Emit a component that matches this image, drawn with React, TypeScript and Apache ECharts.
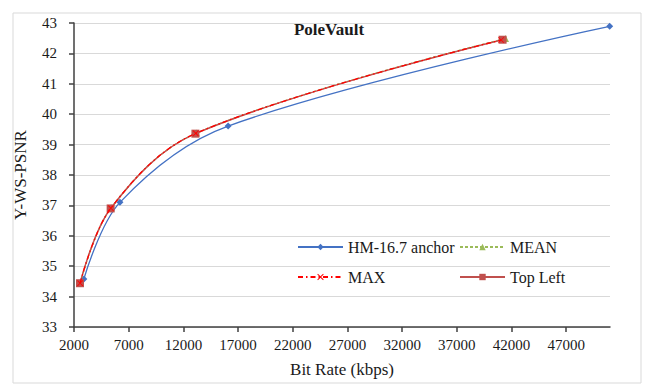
import React, { useEffect, useRef } from "react";
import * as echarts from "echarts";

const xTickValues = [2000, 7000, 12000, 17000, 22000, 27000, 32000, 37000, 42000, 47000];

const hmRate = [2900, 6200, 16090, 50970];
const hmPsnr = [34.58, 37.1, 39.61, 42.89];

const meanRate = [2580, 5400, 13200, 41450];
const meanPsnr = [34.45, 36.92, 39.38, 42.49];

const maxRate = [2560, 5370, 13130, 41050];
const maxPsnr = [34.44, 36.91, 39.37, 42.44];

const topLeftRate = [2550, 5350, 13100, 41180];
const topLeftPsnr = [34.44, 36.9, 39.36, 42.45];

const seriesNames = ["HM-16.7 anchor", "MEAN", "MAX", "Top Left"];

const zip = (a: number[], b: number[]) => a.map((v, i) => [v, b[i]]);

const FONT = "Liberation Serif";
const XSYM =
  "path://M1,0L5,4L9,0L10,1L6,5L10,9L9,10L5,6L1,10L0,9L4,5L0,1Z";
const SMOOTH = 0.35;

export default function App() {
  const ref = useRef<HTMLDivElement>(null);
  useEffect(() => {
    if (!ref.current) return;
    const chart = echarts.init(ref.current, null, { renderer: "svg" });
    const legendBase = {
      orient: "horizontal",
      padding: 0,
      itemWidth: 45,
      itemHeight: 8,
      itemGap: 5,
      selectedMode: false,
      textStyle: { fontFamily: FONT, fontSize: 16, color: "#1a1a1a" },
    };
    chart.setOption({
      animation: false,
      backgroundColor: "#ffffff",
      textStyle: { fontFamily: FONT },
      graphic: [
        {
          type: "rect",
          shape: { x: 13, y: 13, width: 628, height: 370 },
          style: { fill: "none", stroke: "#D9D9D9", lineWidth: 1 },
          silent: true,
        },
        {
          type: "text",
          x: 329,
          y: 29,
          style: {
            text: "PoleVault",
            fontFamily: FONT,
            fontSize: 17,
            fontWeight: "bold",
            fill: "#1a1a1a",
            align: "center",
            verticalAlign: "middle",
          },
        },
      ],
      legend: [
        { ...legendBase, data: [seriesNames[0]], left: 297, top: 239 },
        { ...legendBase, data: [seriesNames[1]], left: 459, top: 239 },
        { ...legendBase, data: [seriesNames[2]], left: 297, top: 269 },
        { ...legendBase, data: [seriesNames[3]], left: 459, top: 269 },
      ],
      grid: { left: 74, right: 35, top: 23, bottom: 60, containLabel: false },
      xAxis: {
        type: "value",
        min: 2000,
        max: 51000,
        name: "Bit Rate (kbps)",
        nameLocation: "middle",
        nameGap: 34,
        nameTextStyle: { fontFamily: FONT, fontSize: 17, color: "#1a1a1a" },
        axisLine: { show: true, lineStyle: { color: "#404040", width: 1.5 } },
        axisTick: {
          show: true,
          length: 5,
          customValues: xTickValues,
          lineStyle: { color: "#404040", width: 1.5 },
        },
        axisLabel: {
          customValues: xTickValues,
          formatter: (v: number) => String(v),
          margin: 10,
          fontFamily: FONT,
          fontSize: 15,
          color: "#1a1a1a",
        },
        splitLine: { show: false },
      },
      yAxis: {
        type: "value",
        min: 33,
        max: 43,
        interval: 1,
        name: "Y-WS-PSNR",
        nameLocation: "middle",
        nameGap: 45,
        nameTextStyle: { fontFamily: FONT, fontSize: 17, color: "#1a1a1a" },
        axisLine: { show: true, lineStyle: { color: "#404040", width: 1.5 } },
        axisTick: { show: true, length: 5, lineStyle: { color: "#404040", width: 1.5 } },
        axisLabel: { margin: 17, fontFamily: FONT, fontSize: 15, color: "#1a1a1a" },
        splitLine: { show: true, lineStyle: { color: "#D9D9D9", width: 1.2 } },
      },
      series: [
        {
          name: seriesNames[0],
          type: "line",
          smooth: SMOOTH,
          data: zip(hmRate, hmPsnr),
          symbol: "diamond",
          symbolSize: 7,
          lineStyle: { color: "#4472C4", width: 1.3 },
          itemStyle: { color: "#4472C4" },
          z: 2,
        },
        {
          name: seriesNames[1],
          type: "line",
          smooth: SMOOTH,
          data: zip(meanRate, meanPsnr),
          symbol: "triangle",
          symbolSize: 7,
          lineStyle: { color: "#9BBB59", width: 1.3, type: [3, 2] },
          itemStyle: { color: "#9BBB59" },
          z: 3,
        },
        {
          name: seriesNames[3],
          type: "line",
          smooth: SMOOTH,
          data: zip(topLeftRate, topLeftPsnr),
          symbol: "rect",
          symbolSize: 8,
          lineStyle: { color: "#C0504D", width: 1.5 },
          itemStyle: { color: "#C0504D" },
          z: 4,
        },
        {
          name: seriesNames[2],
          type: "line",
          smooth: SMOOTH,
          data: zip(maxRate, maxPsnr),
          symbol: XSYM,
          symbolSize: 6,
          lineStyle: { color: "#FF0000", width: 1.3, type: [5, 3, 1.5, 3] },
          itemStyle: { color: "#FF0000" },
          z: 5,
        },
      ],
    });
    return () => chart.dispose();
  }, []);
  return (
    <div
      ref={ref}
      style={{ position: "absolute", left: 0, top: 0, width: 645, height: 387 }}
    />
  );
}
